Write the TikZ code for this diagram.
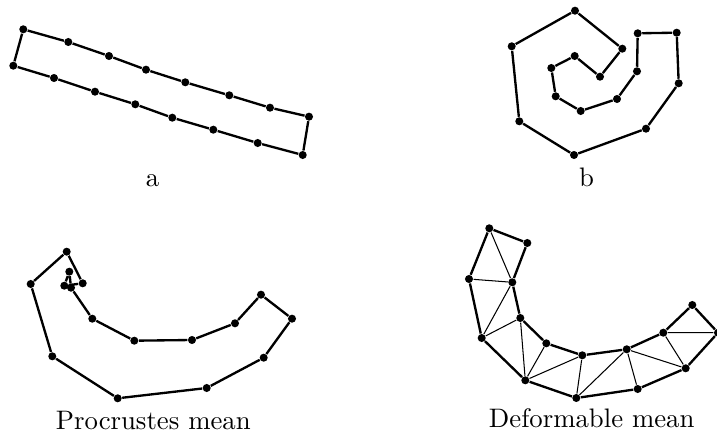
\documentclass[tikz,border=0pt]{standalone}
\begin{document}
\begin{tikzpicture}[x=0.385pt,y=-0.385pt,
  dot/.style={circle,fill=black,inner sep=0pt,minimum size=3.1pt},
  outl/.style={line width=0.9pt,line join=round},
  thinl/.style={line width=0.4pt},
  lab/.style={anchor=base,inner sep=0pt,font=\fontsize{10.3}{12}\selectfont}]
\useasboundingbox (0,0) rectangle (717,434);
% ---- a ----
\foreach \n/\x/\y in {1/23.3/29.3,2/68.3/42,3/109/56,4/146/69.7,5/185.3/82.3,6/229.3/95.3,7/270/107.7,8/309/116.7}
  \node[dot] (at\n) at (\x,\y) {};
\foreach \n/\x/\y in {1/13.3/65.7,2/54/78,3/95/91.7,4/135.3/104.3,5/172.3/117.7,6/213.3/129.7,7/257.7/143,8/302.7/155}
  \node[dot] (ab\n) at (\x,\y) {};
\draw[outl] (at1)--(at2)--(at3)--(at4)--(at5)--(at6)--(at7)--(at8)--(ab8)--(ab7)--(ab6)--(ab5)--(ab4)--(ab3)--(ab2)--(ab1)--(at1);
\node[lab] (la) at (152.5,186.5) {a};
% ---- b ----
\foreach \n/\x/\y in {1/600/76.7,2/622.3/48.7,3/575/10.7,4/511.7/46.3,5/519.3/121.3,6/574/155,7/646/128.7,8/678.7/83.3,9/676.7/32.7,10/637.7/33.3,11/637/71.3,12/617/99,13/580.7/111,14/555.7/96.3,15/551.3/68,16/574.7/56}
  \node[dot] (s\n) at (\x,\y) {};
\draw[outl] (s1)--(s2)--(s3)--(s4)--(s5)--(s6)--(s7)--(s8)--(s9)--(s10)--(s11)--(s12)--(s13)--(s14)--(s15)--(s16)--(s1);
\node[lab] (lb) at (586.5,186.5) {b};
% ---- Procrustes mean ----
\foreach \n/\x/\y in {1/30.7/284,2/66.7/251.7,3/82.7/283.3,4/64.3/285.7,5/69.3/271.7,6/71/287.7,7/92.3/318.7,8/134.3/340.7,9/192/340,10/235/323.3,11/261/294.7,12/292/318.7,13/263.7/357.7,14/206.7/388,15/117.7/398.3,16/52.3/356.3}
  \node[dot] (p\n) at (\x,\y) {};
\draw[outl] (p1)--(p2)--(p3)--(p4)--(p5)--(p6)--(p7)--(p8)--(p9)--(p10)--(p11)--(p12)--(p13)--(p14)--(p15)--(p16)--(p1);
\node[lab] (lp) at (153.3,429.5) {Procrustes mean};
% ---- Deformable mean ----
\foreach \n/\x/\y in {A/489.3/228.3,B/527.3/243,C/469/279,D/512.3/282.3,E/520.3/318,F/481.7/338,G/546.3/343.3,H/525.3/380.3,I/582.3/355.3,J/576.3/398,K/626.7/349.3,L/637.7/389,M/663.3/332.7,N/685.7/368.3,O/692.3/305,P/718/332.7}
  \node[dot] (d\n) at (\x,\y) {};
\draw[thinl] (dA)--(dD) (dC)--(dD) (dD)--(dF) (dE)--(dF) (dE)--(dH) (dG)--(dH) (dH)--(dI) (dI)--(dJ) (dJ)--(dK) (dK)--(dL) (dK)--(dN) (dM)--(dN) (dM)--(dP);
\draw[outl] (dB)--(dA)--(dC)--(dF)--(dH)--(dJ)--(dL)--(dN)--(dP)--(dO)--(dM)--(dK)--(dI)--(dG)--(dE)--(dD)--(dB);
\node[lab] (ld) at (591.7,427.5) {Deformable mean};
\end{tikzpicture}
\end{document}
